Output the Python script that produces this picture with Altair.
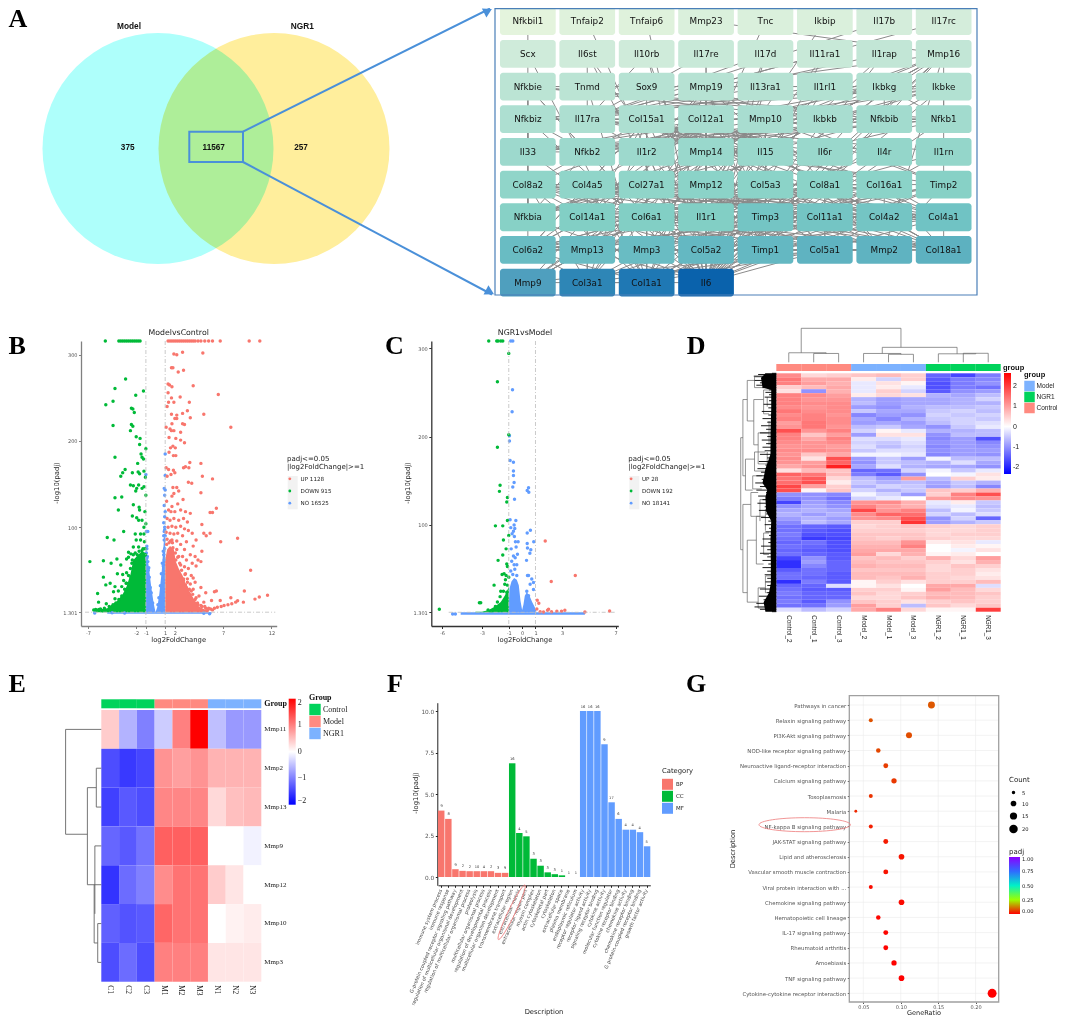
import itertools
import altair as alt
import pandas as pd

W, H = 1049, 1008
SANS = "DejaVu Sans"
SERIF = "Liberation Serif"
ARIAL = "Liberation Sans"
UP, DOWN, NO = "#F8766D", "#00BA38", "#619CFF"
ANN_G, ANN_R, ANN_B = "#00D35B", "#FF8A80", "#7CB2FF"

# ---------- A ----------
venn_sets = ["Model", "NGR1"]
venn_counts = ["375", "11567", "257"]
genes = ["Nfkbil1","Tnfaip2","Tnfaip6","Mmp23","Tnc","Ikbip","Il17b","Il17rc",
 "Scx","Il6st","Il10rb","Il17re","Il17d","Il11ra1","Il1rap","Mmp16",
 "Nfkbie","Tnmd","Sox9","Mmp19","Il13ra1","Il1rl1","Ikbkg","Ikbke",
 "Nfkbiz","Il17ra","Col15a1","Col12a1","Mmp10","Ikbkb","Nfkbib","Nfkb1",
 "Il33","Nfkb2","Il1r2","Mmp14","Il15","Il6r","Il4r","Il1rn",
 "Col8a2","Col4a5","Col27a1","Mmp12","Col5a3","Col8a1","Col16a1","Timp2",
 "Nfkbia","Col14a1","Col6a1","Il1r1","Timp3","Col11a1","Col4a2","Col4a1",
 "Col6a2","Mmp13","Mmp3","Col5a2","Timp1","Col5a1","Mmp2","Col18a1",
 "Mmp9","Col3a1","Col1a1","Il6"]
degree = [1,2,2,3,3,3,4,4, 5,5,5,6,6,6,7,7, 8,8,9,9,9,10,10,10, 11,11,11,12,12,12,13,13,
 14,14,14,15,15,15,16,16, 17,17,17,18,18,18,18,19, 19,20,20,20,24,24,24,25,
 28,28,28,30,30,32,32,33, 38,46,52,60]
collagens = ["Col15a1","Col12a1","Col8a2","Col4a5","Col27a1","Col5a3","Col8a1","Col16a1","Col14a1","Col6a1",
 "Col11a1","Col4a2","Col4a1","Col6a2","Col5a2","Col5a1","Col18a1","Col3a1","Col1a1"]
mmps = ["Mmp16","Mmp19","Mmp10","Mmp14","Mmp12","Timp2","Timp3","Mmp13","Mmp3","Timp1","Mmp2","Mmp9","Il6"]
nfkb = ["Nfkbie","Ikbkg","Ikbke","Nfkbiz","Ikbkb","Nfkbib","Nfkb1","Nfkb2","Nfkbia","Il6","Il33"]
il_hubs = ["Il6","Il1r1","Il17ra"]
il_leaves = ["Il6st","Il10rb","Il17re","Il17d","Il11ra1","Il1rap","Il13ra1","Il1rl1","Il1r2","Il15","Il6r","Il4r","Il1rn"]
extra_edges = [("Nfkbil1","Nfkbie"),("Tnfaip2","Il6"),("Tnfaip6","Il6"),("Mmp23","Mmp16"),("Tnc","Col1a1"),("Ikbip","Col1a1"),("Il17b","Il17ra"),("Il17rc","Il17ra"),
 ("Scx","Col1a1"),("Tnmd","Col1a1"),("Sox9","Col1a1"),("Col1a1","Mmp2"),("Col3a1","Mmp2")]
fan_edges = [("Col1a1","Col5a1"),("Col3a1","Col5a1"),("Mmp9","Col5a1"),("Il6","Col5a1"),("Il6","Col4a2")]

# ---------- B ----------
b_up_top = [1.3,1.5,1.7,1.9,2.1,2.3,2.5,2.7,2.9,3.1,3.3,3.5,3.7,3.9,4.1,4.4,4.7,5.1,5.5,5.9,6.7,9.7,10.8]
b_down_top = [-5.2,-3.8,-3.6,-3.4,-3.2,-3.0,-2.8,-2.6,-2.4,-2.2,-2.0,-1.8,-1.6]
b_up = [(1.9,301),(2.2,300),(2.8,303),(4.9,302),(1.65,285),(1.8,285),(2.35,280),(2.9,282),(3.9,264),(1.3,266),(1.45,265),(1.7,263),
 (1.3,256),(6.5,254),(1.65,250),(2.55,251),(3.5,245),(1.35,245),(1.9,245),(1.2,240),(3.3,235),(2.8,232),(1.65,231),(2.2,230),(5,231),
 (3.6,227),(2.2,226),(2,226),(1.7,220),(2.8,220),(3,219),(7.8,216),(1.1,216),(1.5,214),(1.65,212),(1.9,212),(2.6,210),(1.4,204),(2.1,203),
 (2.6,201),(1.8,194),(1.55,192),(2.05,192),(3,198),(1.4,187),(1.85,183),(2.1,183),(3.55,175),(4.7,174),(1.1,169),(2.9,169),(3.1,170),(3.45,169),
 (1.35,167),(1.85,166),(4.85,159),(5.9,156),(1.6,161),(1.2,159),(2.0,163),(3.4,152),(3.75,151),(2.2,146),(1.8,146),(2.4,142),(4.7,140),(1.7,136),
 (1.9,139),(2.85,132),(1.15,130),(1.7,124),(2.3,127),(6.3,122),(5.9,117),(5.65,117),(1.35,120),(1.6,118),(2.0,118),(2.6,120),(3.1,118),(3.6,116),
 (1.2,110),(1.5,108),(1.9,110),(2.4,108),(2.9,110),(3.3,106),(4.8,103),(1.3,100),(1.7,101),(2.1,100),(2.6,101),(3.0,98),(3.4,96),(1.1,94),(1.5,93),
 (1.9,92),(2.3,93),(2.8,90),(3.8,93),(5.65,93),(5.0,93),(5.25,90),(6.75,83),(8.5,87),(1.2,86),(1.7,85),(2.2,84),(3.2,83),(4.2,85),(2.6,80),(3.9,78),
 (1.8,76),(3.0,74),(4.8,72),(4.1,66),(3.6,68),(2.4,66),(2.8,66),(3.2,62),(4.4,62),(4.7,60),(2.1,62),(3.8,58),(4.2,55),(2.6,56),(3.0,54),(3.4,52),
 (9.85,50),(3.7,44),(3.1,46),(3.9,41),(2.6,42),(3.3,40),(2.9,38),(4.1,36),(3.6,34),(4.7,30),(3.2,30),(2.6,32),(3.9,28),(5.2,24),(6.1,25),(6.3,26),(9.2,26),
 (11.6,21),(10.75,19),(10.3,16.5),(7.8,18),(8.5,14.5),(9.1,13),(4.5,20),(3.5,22),(5.8,15),(6.7,15),(4.1,16),(5.0,13),(5.7,5),(6.1,6),(6.4,7),(6.8,8),
 (7.1,9),(7.5,10),(7.9,11),(8.3,13),(5.2,6),(4.8,8),(4.4,10),
 (2.05,70),(1.75,82),(1.4,82),(1.15,80),(2.3,65),(2.5,58),(2.7,50),(3.05,45),(3.3,36),(3.5,28),(3.85,22),(4.2,18),(4.35,12),(4.7,9),(5.1,8),(5.4,4),
 (2.2,74),(1.55,84),(2.9,40),(3.1,33),(3.7,26),(5.5,6),(5.9,4)]
b_down = [(-3.1,272),(-4.2,261),(-1.25,258),(-2.05,253),(-4.4,246),(-5.15,242),(-2.5,238),(-2.35,237),(-2.2,233),(-4.4,218),(-2.5,219),(-2.35,217),
 (-2.6,212),(-2.0,205),(-1.6,203),(-1.65,196),(-1.0,191),(-1.5,185),(-1.4,181),(-4.2,181),(-1.25,179),(-1.85,174),(-3.15,167),(-3.4,163),(-3.6,159),
 (-2.4,163),(-1.8,164),(-1.65,162),(-1.2,165),(-1.05,158),(-2.6,149),(-2.3,148),(-1.75,149),(-1.95,145),(-2.05,142),(-1.4,145),(-1.2,147),(-1.0,137),
 (-3.5,135),(-4.2,134),(-2.3,126),(-1.7,123),(-1.65,120),(-1.1,118),(-3.85,120),(-2.4,113),(-1.95,111),(-1.75,108),(-1.4,108),(-1.0,104),(-3.3,95),
 (-1.2,100),(-1.55,92),(-1.2,92),(-2.1,92),(-5,88),(-4.3,85),(-2.0,85),(-1.55,85),(-1.15,83),(-2.3,77),(-1.75,77),(-2.8,71),(-1.4,73),(-2.8,65),(-2.3,68),
 (-1.9,68),(-2.55,69),(-1.05,68),(-3,63),(-4,63),(-5.4,61),(-6.8,60),(-4.6,58),(-3.6,56),(-2.45,58),(-1.95,58),(-1.4,58),(-3.95,46),(-3.4,45),(-3,47),
 (-5.4,42),(-3.3,38),(-2.55,42),(-2.1,48),(-4.2,31),(-4.7,35),(-5.15,33),(-3.85,26),(-4.35,25),(-6,23),(-4.2,17),(-3.5,31),(-3.05,35),(-5.9,13),(-5.1,11),
 (-4.1,11),(-6.2,4.5),(-5.85,4.5),(-5.5,3),(-4.5,8),(-6.4,4),(-6.0,3.5),
 (-1.3,75),(-1.7,72),(-2.1,70),(-2.4,62),(-2.6,52),(-2.8,44),(-3,35),(-3.2,28),(-3.5,20),(-3.8,16),(-4.1,12),(-4.4,10),(-4.8,8),(-5.3,6),(-5.7,5),
 (-2.2,58),(-1.6,66),(-1.1,75),(-2.9,25),(-3.3,18)]
b_no = [(-1,161),(1,185),(1.0,160),(0.9,145),(1.0,143),(0.95,137),(0.9,125),(1,118),(0.95,112),(0.85,105),(0.95,97),(-0.95,95),(-0.8,95),(1,90),(0.9,85),
 (-0.9,78),(-0.95,70),(-0.9,64),(0.95,75),(0.85,68),(0.9,62),(-0.8,60),(-0.7,53),(0.8,55),(-6.3,0.3),(-4.5,0.6),(-3.2,0.4),(5.6,-0.6),(5.0,0.2),
 (-0.9,75),(-0.85,66),(-0.75,50),(-0.65,42),(-.55,30),(-.45,24),(-.3,12),(.25,10),(.35,18),(.5,32),(.6,46),(.7,58),(.8,72),(.9,95),(.95,100),(.85,90)]
b_up_area_x = [1,1.2,1.5,1.9,2.1,2.4,2.8,3.2,3.6,4,4.5,5,5.5]
b_up_area_y = [62,74,78,74,60,52,44,32,24,16,8,5,2.5]
b_down_area_x = [-6.4,-6,-5,-4,-3.4,-3,-2.6,-2.3,-1.8,-1.4,-1]
b_down_area_y = [3,4,6,14,22,31,45,62,68,72,70]
b_no_x = [-1,-0.7,-0.45,-0.2,0,0.2,0.4,0.65,0.9,1]
b_no_y = [78,54,31,12,1.3,8,23,50,90,95]

# ---------- C ----------
c_down_top = [-2.5,-1.9,-1.8,-1.6,-1.45]
c_no_top = [-0.85,-0.7]
c_up = [(1.73,82),(2.18,36),(3.98,43),(6.55,2.8),(1.13,15),(1.25,11.5),(1.1,5),(1.98,4.7),(1.9,3.5),(3.2,3.6),(2.6,2.6),(2.95,2.6),(4.7,1.7),(1.35,2),(1.6,1.6),(2.2,2)]
c_down = [(-1,294),(-1.85,262),(-1,202),(-1.85,188),(-1.65,145),(-1.7,138),(-1.1,131),(-1.15,126),(-1.1,105),(-2,99),(-1.45,99),(-1,88),(-1.4,83),(-1.2,73),
 (-1.45,66),(-1.8,60),(-1.15,56),(-1.1,53),(-1.5,44),(-1.35,45),(-1.2,43),(-1,41),(-2.1,32),(-1.6,25),(-1.4,25),(-1.15,24),(-1.65,19),(-1.85,13),(-2.0,8),
 (-3.2,12),(-3.1,12.2),(-6.2,4.7),(-2.55,4),(-2.3,3),(-1.3,33),(-1.1,32),(-1.25,38)]
c_no = [(-0.72,253),(-0.75,228),(-0.95,201),(-0.95,195),(-0.9,173),(-0.65,171),(-0.65,161),(-0.65,156),(-0.6,148),(-0.7,143),(-0.57,129),(0.48,142),(0.38,139),(0.5,137),
 (-0.9,106),(-0.47,105),(-0.6,100),(-0.85,97),(-0.55,96),(-0.65,93),(-0.75,90),(-0.58,87),(0.38,91),(0.62,94),(0.87,81),(0.38,79),(0.4,74),(0.65,72),(0.58,68),(0.33,60),
 (-0.5,81),(-0.3,81),(-0.45,75),(-0.82,73),(-0.65,65),(-0.35,67),(-0.78,59),(-0.52,63),(-0.85,48),(-0.55,50),(-0.7,44),(-0.4,43),(0.48,43),(0.4,43),(0.72,39),(0.85,35),(0.6,33),(0.85,27),
 (0.35,25),(0.48,20),(-5.2,-0.6),(-5.0,-0.6),(-0.6,55),(-0.4,55)]
c_no_lobe_x = [-1,-.95,-.8,-.6,-.4,-.25,-.12,0,.1,.2,.35,.55,.75,.95,1.05]
c_no_lobe_y = [8,28,36,40,38,32,14,4,10,20,24,20,13,7,3]
c_no_base_x = [-4.6,4.7]
c_down_area_x = [-3.5,-3,-2.5,-2,-1.6,-1.3,-1]
c_down_area_y = [1.8,2,4,8,13,20,30]

# ---------- D ----------
d_cols = ["Control_2","Control_1","Control_3","Model_2","Model_1","Model_3","NGR1_2","NGR1_1","NGR1_3"]
d_groups = ["Control"]*3 + ["Model"]*3 + ["NGR1"]*3
d_matrix = [
 [1.2,.4,.5,.6,.7,.5,-1.4,-1.7,-1.2],[1.4,.9,.9,.2,-.4,.5,-1.5,-1.2,-1.1],[1.3,1.0,.8,-.2,.3,.1,-1.6,-1.2,-1.0],[.5,.7,.9,-.2,.2,-.2,-1.6,-1.2,-1.3],
 [.3,-1.0,.8,-.2,.5,-.4,-1.5,-1.0,-.9],[1.3,1.2,1.0,.2,.4,.3,-.7,-.8,-.6],[1.3,1.1,1.1,-.7,-.9,-.8,-.8,-.7,-.4],[1.3,1.2,1.2,-.6,-.9,-.8,-.8,-.7,-.7],
 [1.2,1.1,1.2,-.9,-1.0,-.7,-.6,-.6,-.5],[1.4,1.2,1.2,-.5,-.8,-.8,-.5,-.4,-.6],[1.2,1.3,1.1,-1.1,-.9,-1.0,-.4,-.5,-.4],[1.3,1.3,1.2,-.8,-1.1,-.7,-.5,-.4,-.5],
 [1.0,1.4,1.2,-.9,-.8,-.9,-.6,-.4,-.3],[1.1,1.4,1.1,-.6,-.5,-.8,-1.0,-.5,-.2],[1.8,1.1,1.3,-.4,.1,-.2,-.7,-.7,-.6],[1.3,.6,1.0,-.9,.3,.3,-1.0,-.6,-.6],
 [1.3,.9,1.3,-.3,-.3,-.2,-1.1,-.9,-1.6],[1.2,1.1,1.2,-.4,-.5,-.3,-1.0,-.9,-1.1],[1.1,1.1,1.0,-.3,-.6,-.4,-1.1,-.9,-1.0],[1.2,1.2,1.1,-.5,-.3,-.3,-1.0,-.9,-.9],
 [1.1,.6,.9,-.1,-.1,-.2,-1.1,-.9,-1.0],[1.2,.3,1.8,-.9,-.5,-.9,-.1,-.6,-.6],[1.1,1.0,1.6,-1.0,-.5,-.6,-.7,-.3,-.8],[.9,1.1,2.3,-.8,-.3,-.7,-.8,-.8,-1.0],
 [.3,.7,.6,-1.4,-1.3,-.4,-.1,-.5,-.2],[1.6,1.4,.7,-1.2,-1.5,-1.0,0,-.1,.3],[1.4,1.7,.4,-.6,-.9,1.0,-.6,.5,.2],[1.5,1.8,.2,-.5,-.7,-.6,-.8,-.5,-.7],
 [1.9,1.0,.5,-.7,-.4,-.5,-.9,-.6,-1.1],[1.8,.1,.6,-.4,-.7,-.5,.6,.5,.8],
 [-1.0,-1.0,-1.1,-.1,-.4,-.9,.5,1.3,1.8],[-1.2,-1.0,-1.3,-.4,-.2,0,1.0,1.2,1.1],[-1.7,-.9,-1.1,1.1,1.2,.8,-.2,.2,-.5],[-1.0,-.8,-1.0,1.3,1.0,.8,-.3,-.2,-.6],
 [-.8,-.7,-.8,1.9,1.1,1.3,-.6,-.1,-.5],[-.7,-.9,-.7,1.2,1.6,1.5,-.4,-.6,-.3],[-.9,-.7,-.9,1.1,1.2,1.8,-1.0,-.4,-1.4],[-1.1,-.6,-.8,.5,.5,2.1,-.9,-.7,-.5],
 [-1.3,-1.4,-1.5,.4,.5,.6,.5,.4,.5],[-1.3,-1.5,-1.6,.5,.5,.5,.4,.4,.5],[-1.2,-1.6,-1.6,.6,.6,.6,.4,.5,.5],[-1.3,-1.8,-1.7,.6,.5,.6,.5,.4,.4],
 [-1.4,-1.3,-1.6,.7,.7,1.1,.2,.3,-.2],[-1.3,-1.4,-1.6,.8,.8,1.3,0,.2,.1],[-1.4,-1.5,-1.6,.9,.9,.9,0,-.1,.3],[-1.3,-1.4,-1.5,1.0,.4,.8,.1,.2,0],
 [-1.7,-1.0,-1.5,.6,.7,.5,.8,.4,1.0],[-1.9,-.9,-1.4,.7,.6,.6,.5,.3,.8],[-1.9,-1.1,-1.4,.8,.7,.7,.4,.6,.5],[-1.5,-1.3,-1.4,.6,.6,.6,.4,.5,.3],
 [-1.3,-1.3,-1.5,.7,.7,.7,.5,.5,.2],[-1.3,-1.4,-1.5,.7,.6,.8,.5,.4,.3],[-1.9,-1.2,-1.5,.1,.5,.3,.5,.5,.7],[-1.4,-1.4,-.3,.1,.3,0,.9,.9,-.3],
 [-1.3,-1.5,-1.5,.5,.5,.1,1.0,.7,.4],[-1.2,-1.4,-1.4,.6,.4,.5,.7,.7,.6],[-1.3,-1.4,-1.4,.4,.4,.6,.8,.7,.5],[-1.2,-1.5,-1.0,.6,.5,.3,.5,.6,.5],
 [-1.3,-1.3,-.9,1.0,.5,-.6,.6,.4,.6],[-.3,-.6,-.4,.9,1.3,.4,.1,.1,2.0]]
d_seg_top = [(0.5,4.5,1.0,1.0),(0.5,0.5,1.0,0.28),(4.5,4.5,1.0,0.44),(0,1.5,0.28,0.28),(1,2,0.26,0.26),(0,0,0.28,0),(1,1,0.26,0),(2,2,0.26,0),
 (3.75,6.75,0.44,0.44),(3.75,3.75,0.44,0.26),(6.75,6.75,0.44,0.25),(3,4.5,0.26,0.26),(3,3,0.26,0),(4,5,0.235,0.235),(4.5,4.5,0.26,0.235),(4,4,0.235,0),(5,5,0.235,0),
 (6,7.5,0.25,0.25),(6,6,0.25,0),(7,8,0.265,0.265),(7.5,7.5,0.265,0.25),(7,7,0.265,0),(8,8,0.265,0),(1.5,1.5,0.28,0.26)]
d_seg_left = [(0.98,0.98,.27,.74),(.98,.92,.27,.27),(.98,.92,.74,.74),(.92,.92,.11,.43),(.92,.8,.11,.11),(.92,.85,.43,.43),(.8,.8,.03,.2),(.8,.6,.03,.03),(.8,.62,.2,.2),
 (.6,.6,.015,.06),(.6,.3,.015,.015),(.6,.3,.06,.06),(.62,.62,.11,.3),(.62,.35,.11,.11),(.62,.5,.3,.3),(.5,.5,.25,.38),(.5,.2,.25,.25),(.5,.25,.38,.38),(.35,.35,.07,.17),
 (.35,.2,.07,.07),(.35,.2,.17,.17),(.85,.85,.36,.49),(.85,.6,.36,.36),(.85,.65,.49,.49),(.6,.6,.33,.41),(.6,.3,.33,.33),(.6,.3,.41,.41),(.65,.65,.43,.485),(.65,.4,.43,.43),(.65,.4,.485,.485),
 (.92,.92,.55,.92),(.92,.7,.55,.55),(.92,.8,.92,.92),(.7,.7,.5,.6),(.7,.5,.5,.5),(.7,.45,.6,.6),(.8,.8,.7,.96),(.8,.55,.7,.7),(.8,.5,.96,.96),(.55,.55,.6,.8),(.55,.3,.6,.6),(.55,.35,.8,.8),
 (.35,.35,.67,.76),(.35,.2,.67,.67),(.35,.2,.76,.76),(.3,.3,.57,.66),(.3,.18,.57,.57),(.5,.5,.9,.985),(.5,.3,.9,.9),(.5,.3,.985,.985),(.3,.3,.85,.92),(.3,.15,.85,.85),(.3,.15,.92,.92),
 (.45,.45,.53,.62),(.45,.2,.53,.53),(.2,.2,.2,.3),(.2,.2,.42,.48),(.25,.25,.1,.14),(.25,.25,.33,.38)]
d_hair_pos = [0,.005,.012,.02,.03,.04,.05,.06,.07,.08,.09,.1,.115,.13,.145,.16,.175,.19,.205,.22,.235,.25,.265,.28,.295,.31,.325,.34,.355,.37,.385,.4,.415,.43,.445,.46,.475,.49,.5,.515,.53,.545,.56,.575,.59,.605,.62,.635,.65,.665,.68,.695,.71,.725,.74,.755,.77,.785,.8,.815,.83,.845,.86,.875,.89,.905,.92,.935,.95,.965,.98,.99,1]
d_hair_h = [.12,.5,.62,.42,.6,.45,.55,.38,.2,.3,.2,.32,.2,.35,.22,.4,.22,.38,.25,.42,.28,.45,.25,.4,.28,.38,.32,.45,.25,.48,.3,.52,.42,.55,.4,.58,.45,.55,.28,.5,.38,.52,.32,.48,.28,.42,.22,.32,.2,.3,.2,.38,.22,.42,.25,.45,.25,.38,.22,.38,.25,.32,.25,.3,.25,.45,.25,.48,.35,.55,.6,.45,.12]
d_core_pos = [0,.02,.06,.07,.15,.25,.34,.4,.46,.49,.52,.58,.62,.7,.8,.88,.92,.96,1]
d_core_h = [.3,.42,.38,.14,.14,.16,.16,.3,.38,.25,.3,.28,.14,.16,.15,.15,.2,.35,.3]
d_ticks = [-2,-1,0,1,2]

# ---------- E ----------
e_cols = ["C1","C2","C3","M1","M2","M3","N1","N2","N3"]
e_groups = ["Control"]*3 + ["Model"]*3 + ["NGR1"]*3
e_rows = ["Mmp11","Mmp2","Mmp13","Mmp9","Mmp12","Mmp10","Mmp3"]
e_matrix = [[.4,-.6,-1.0,-.4,1.0,2.0,-.5,-.8,-.8],[-1.4,-1.55,-1.45,.85,.75,.85,.6,.6,.6],[-1.5,-1.3,-1.4,.95,.95,.95,.3,.5,.55],
 [-1.2,-1.3,-1.1,1.25,1.25,1.25,0,0,-.1],[-1.6,-1.15,-1.0,.9,1.1,1.1,.4,.2,0],[-1.25,-1.35,-1.3,1.2,1.1,1.1,0,.1,.15],[-1.4,-1.15,-1.4,1.0,1.0,1.0,.2,.2,.2]]
e_seg = [(1,1,0,2.7),(1,0,0,0),(1,.39,2.7,2.7),(.39,.39,1.5,4.0),(.39,.14,1.5,1.5),(.14,.14,1,2),(.14,0,1,1),(.14,0,2,2),(.39,.18,4.0,4.0),(.18,.18,3,4.75),(.18,0,3,3),
 (.2,.2,4,5.5),(.2,0,4,4),(.2,.1,5.5,5.5),(.1,.1,5,6),(.1,0,5,5),(.1,0,6,6)]

# ---------- F ----------
f_terms = ["immune system process","immune response","G-protein coupled receptor signaling pathway","regulation of multicellular organismal development",
 "regulation of multicellular organismal process","proteolysis","multicellular organismal process","regulation of developmental process",
 "multicellular organism development","transmembrane transport","extracellular region","extracellular matrix","extracellular region part","myosin complex",
 "actin cytoskeleton","cytoskeletal part","cytoskeleton","extracellular space","plasma membrane","endoplasmic reticulum","receptor regulator activity",
 "receptor ligand activity","signaling receptor binding","cytokine activity","molecular function regulator","cytokine receptor binding","chemokine activity",
 "chemokine receptor binding","G protein-coupled receptor binding","growth factor activity"]
f_cat = ["BP"]*10 + ["CC"]*10 + ["MF"]*10
f_val = [4.0,3.5,.47,.37,.35,.35,.35,.35,.25,.25,6.85,2.65,2.45,1.1,.68,.28,.17,.1,0,0,10,10,10,8,4.5,3.5,2.85,2.85,2.7,1.85]
f_count = [9,8,9,2,2,10,4,2,3,9,16,4,5,3,3,3,3,1,1,1,16,16,16,9,17,6,4,4,4,5]

# ---------- G ----------
g_terms = ["Pathways in cancer","Relaxin signaling pathway","PI3K-Akt signaling pathway","NOD-like receptor signaling pathway","Neuroactive ligand-receptor interaction",
 "Calcium signaling pathway","Toxoplasmosis","Malaria","NF-kappa B signaling pathway","JAK-STAT signaling pathway","Lipid and atherosclerosis",
 "Vascular smooth muscle contraction","Viral protein interaction with ...","Chemokine signaling pathway","Hematopoietic cell lineage","IL-17 signaling pathway",
 "Rheumatoid arthritis","Amoebiasis","TNF signaling pathway","Cytokine-cytokine receptor interaction"]
g_ratio = [.141,.06,.111,.07,.08,.091,.06,.04,.06,.08,.101,.08,.06,.101,.07,.08,.08,.091,.101,.222]
g_count = [14,6,11,7,8,9,6,4,6,8,10,8,6,10,7,8,8,9,10,22]
g_padj = [.085,.08,.075,.07,.06,.055,.05,.04,.03,.025,.02,.018,.012,.01,.006,.004,.003,.002,.001,0]
g_ticks = [.05,.10,.15,.20]


def S(domain, a, b, **kw):
    return alt.Scale(domain=domain, range=[a - 8, b - 8], nice=False, zero=False, **kw)

def BAND(domain, a, b, inner=0):
    return alt.Scale(domain=domain, range=[a - 8, b - 8], paddingInner=inner, paddingOuter=0)

PX = alt.X("x:Q", scale=S([0, 1065], 0, 1065), axis=None)
PY = alt.Y("y:Q", scale=S([0, 1024], 0, 1024), axis=None)

def bottom_off(y): return y - 8 - H
def left_off(x): return -(x - 8)
def right_off(x): return x - 8 - W

layers = []

def page_text(rows, **kw):
    df = pd.DataFrame(rows, columns=["x", "y", "t"])
    layers.append(alt.Chart(df).mark_text(**kw).encode(x=PX, y=PY, text="t:N"))

def page_rect(rows, **kw):
    df = pd.DataFrame(rows, columns=["x", "x2", "y", "y2"])
    layers.append(alt.Chart(df).mark_rect(**kw).encode(x=PX, x2=alt.X2("x2"), y=PY, y2=alt.Y2("y2")))

def page_rule(rows, **kw):
    df = pd.DataFrame(rows, columns=["x", "x2", "y", "y2"])
    layers.append(alt.Chart(df).mark_rule(**kw).encode(x=PX, x2=alt.X2("x2"), y=PY, y2=alt.Y2("y2")))

def page_point(x, y, **kw):
    df = pd.DataFrame({"x": [x], "y": [y]})
    layers.append(alt.Chart(df).mark_point(**kw).encode(x=PX, y=PY))

def segs(rows, xscale, yscale, **kw):
    df = pd.DataFrame(rows, columns=["a", "a2", "b", "b2"])
    layers.append(alt.Chart(df).mark_rule(**kw).encode(
        x=alt.X("a:Q", scale=xscale, axis=None), x2=alt.X2("a2"),
        y=alt.Y("b:Q", scale=yscale, axis=None), y2=alt.Y2("b2")))

# ===== A =====
vdf = pd.DataFrame({"x": [158, 274], "y": [148.5, 148.5], "s": venn_sets})
layers.append(alt.Chart(vdf).mark_point(filled=True, size=231 ** 2, opacity=1, blend="multiply").encode(
    x=PX, y=PY, color=alt.Color("s:N", scale=alt.Scale(domain=venn_sets, range=["#AEFFFB", "#FFEE9C"]), legend=None)))
page_text([(129, 26.5, venn_sets[0]), (302.3, 26.5, venn_sets[1])], font=ARIAL, fontSize=8.3, fontWeight="bold", color="#111")
page_text([(127.7, 148, venn_counts[0]), (213.7, 148, venn_counts[1]), (301, 148, venn_counts[2])], font=ARIAL, fontSize=8.2, fontWeight="bold", color="#111")
page_rule([(243, 490, 131.7, 8.5), (243, 492, 162, 294.5)], color="#4A90D9", strokeWidth=2)
page_rect([(189.3, 243, 131.7, 162)], fill=None, stroke="#4A90D9", strokeWidth=2)
page_point(488, 11, shape="triangle-up", filled=True, angle=63, size=100, color="#4A90D9", opacity=1)
page_point(490, 292, shape="triangle-up", filled=True, angle=118, size=110, color="#4A90D9", opacity=1)

# network
NX = S([0, 7], 527.85, 943.65)
NY = S([0, 8], 21.2, 282.6)
pos = {g: (i % 8, i // 8) for i, g in enumerate(genes)}
pairs = []
for grp in (collagens, mmps, nfkb):
    pairs += list(itertools.combinations(grp, 2))
pairs += [(h, l) for h in il_hubs for l in il_leaves] + extra_edges
kept = []
for a, b in pairs:
    (ca, ra), (cb, rb) = pos[a], pos[b]
    if ra == 8 or rb == 8:
        (c8, r8), (co, ro) = ((ca, ra), (cb, rb)) if ra == 8 else ((cb, rb), (ca, ra))
        if ro != 8 and co > c8 and (co - c8) > 2 * (8 - ro) - 1:
            continue
    kept.append((ca, cb, ra, rb))
for a, b in fan_edges:
    kept.append((pos[a][0], pos[b][0], pos[a][1], pos[b][1]))
segs(kept, NX, NY, color="#8A8A8A", strokeWidth=1)
ndf = pd.DataFrame({"g": genes, "deg": degree})
ndf["c"] = [pos[g][0] for g in genes]
ndf["r"] = [pos[g][1] for g in genes]
nbase = alt.Chart(ndf).transform_calculate(c0="datum.c-0.469", c1="datum.c+0.469", r0="datum.r-0.425", r1="datum.r+0.425")
layers.append(nbase.mark_rect(cornerRadius=3).encode(
    x=alt.X("c0:Q", scale=NX, axis=None), x2=alt.X2("c1"),
    y=alt.Y("r0:Q", scale=NY, axis=None), y2=alt.Y2("r1"),
    color=alt.Color("deg:Q", legend=None, scale=alt.Scale(interpolate="rgb",
        domain=[1, 5, 8, 11, 14, 17, 20, 25, 33, 38, 46, 52, 60],
        range=["#E4F4DD", "#CFEBDA", "#BBE4D4", "#ADDFD1", "#9DD9CD", "#90D5C9", "#82CFC5", "#70C3C4", "#5DB1C0", "#4F9FBE", "#2E86B6", "#1F78B4", "#0A62AC"]))))
layers.append(alt.Chart(ndf).mark_text(font=SANS, fontSize=8.8, color="#111").encode(
    x=alt.X("c:Q", scale=NX, axis=None), y=alt.Y("r:Q", scale=NY, axis=None), text="g:N"))
page_rect([(495, 977, 8.6, 295)], fill=None, stroke="#4A7FB8", strokeWidth=1.2)

# ===== volcanoes =====
def volcano(xdom, xa, xb, ydom, ya, yb, xticks, yticks, domain_color, leg_labels, leg_x, leg_y,
            areas, up, down, no, vx, hx):
    XS = S(xdom, xa, xb)
    YS = S(ydom, ya, yb)
    for ax, ay, ay2, col in areas:
        adf = pd.DataFrame({"a": ax, "b": ay, "b2": ay2})
        layers.append(alt.Chart(adf).mark_area(color=col, orient="vertical", opacity=1).encode(
            x=alt.X("a:Q", scale=XS, axis=None), y=alt.Y("b:Q", scale=YS, axis=None, stack=None), y2=alt.Y2("b2")))
    rows = [(x, y, leg_labels[2]) for x, y in no] + [(x, y, leg_labels[1]) for x, y in down] + [(x, y, leg_labels[0]) for x, y in up]
    pdf = pd.DataFrame(rows, columns=["lfc", "val", "group"])
    layers.append(alt.Chart(pdf).mark_circle(size=12, opacity=1).encode(
        x=alt.X("lfc:Q", scale=XS, axis=alt.Axis(orient="bottom", offset=bottom_off(ya), values=xticks, title=None, grid=False,
            domainColor=domain_color, domainWidth=1.3, tickColor=domain_color, tickSize=2.5, labelFontSize=5, labelColor="#555", labelFont=SANS,
            labelPadding=1.5, labelExpr="''+datum.value", labelOverlap=False)),
        y=alt.Y("val:Q", scale=YS, axis=alt.Axis(orient="left", offset=left_off(xa), values=yticks, title=None, grid=False,
            domainColor=domain_color, domainWidth=1.3, tickColor=domain_color, tickSize=2.5, labelFontSize=5, labelColor="#555", labelFont=SANS,
            labelPadding=1.5, labelExpr="''+datum.value", labelOverlap=False)),
        color=alt.Color("group:N", scale=alt.Scale(domain=leg_labels, range=[UP, DOWN, NO]), legend=alt.Legend(
            orient="none", legendX=leg_x - 8, legendY=leg_y - 8, title=["padj<=0.05", "|log2FoldChange|>=1"], titleFont=SANS, titleFontSize=7,
            titleFontWeight="normal", titleColor="#222", titleLineHeight=8, labelFont=SANS, labelFontSize=5.6, labelColor="#222", symbolSize=8, symbolType="circle",
            rowPadding=5.2, titlePadding=6, padding=0, labelOffset=8))))
    seg_rows = [(v, v, ydom[1], ydom[0]) for v in vx] + [(hx[0], hx[1], 1.301, 1.301)]
    segs(seg_rows, XS, YS, color="#BDBDBD", strokeWidth=0.8, strokeDash=[4, 2, 1, 2])

page_rect([(287.7, 297.7, 476, 509.3), (629.3, 639.3, 476, 509.3)], fill="#F2F2F2")

volcano([-7.72, 12.55], 81, 276.7, [-14.7, 316], 626, 341, [-7, -2, -1, 1, 2, 7, 12], [1.301, 100, 200, 300], "#808080",
        ["UP 1128", "DOWN 915", "NO 16525"], 287, 455,
        [([-5, 5.8], [1.3, 1.3], [-0.6, -0.6], NO),
         (b_no_x, b_no_y, [1.3] * len(b_no_x), NO),
         (b_up_area_x, b_up_area_y, [1.3] * len(b_up_area_x), UP),
         (b_down_area_x, b_down_area_y, [1.3] * len(b_down_area_x), DOWN)],
        b_up + [(v, 316) for v in b_up_top], b_down + [(v, 316) for v in b_down_top], b_no, [-1, 1], [-7.3, 12.4])

volcano([-6.8, 7.2], 431.3, 618.3, [-14.2, 308], 626, 341, [-6, -3, -1, 0, 1, 3, 7], [1.301, 100, 200, 300], "#333333",
        ["UP 28", "DOWN 192", "NO 18141"], 628.3, 455,
        [(c_no_base_x, [1.3, 1.3], [-1.5, -1.5], NO),
         (c_no_lobe_x, c_no_lobe_y, [1.3] * len(c_no_lobe_x), NO),
         (c_down_area_x, c_down_area_y, [1.3] * len(c_down_area_x), DOWN)],
        c_up, c_down + [(v, 308) for v in c_down_top], c_no + [(v, 308) for v in c_no_top], [-1, 1], [-5.5, 7])

page_text([(178.7, 332.7, "ModelvsControl"), (525, 332.7, "NGR1vsModel")], font=SANS, fontSize=7.8, color="#222")
page_text([(178.7, 639.5, "log2FoldChange"), (525, 639.5, "log2FoldChange")], font=SANS, fontSize=6.8, color="#222")
page_text([(57, 483, "-log10(padj)"), (408, 483, "-log10(padj)")], font=SANS, fontSize=6.8, color="#222", angle=270)

# ===== heatmaps =====
def heat_rows(cols, rows, matrix):
    return pd.DataFrame([{"col": c, "row": r, "v": matrix[i][j]} for i, r in enumerate(rows) for j, c in enumerate(cols)])

# D
d_rows = list(range(len(d_matrix)))
D_X = BAND(d_cols, 776.3, 1000.7)
d_ann = pd.DataFrame({"col": d_cols, "group": d_groups, "lab": ["group"] * 9})
layers.append(alt.Chart(heat_rows(d_cols, d_rows, d_matrix)).mark_rect().encode(
    x=alt.X("col:N", scale=D_X, sort=d_cols, axis=alt.Axis(orient="bottom", offset=bottom_off(611.7), title=None, labelAngle=90, labelAlign="left", labelBaseline="middle",
        labelFont=ARIAL, labelFontSize=6.3, labelColor="#222", tickSize=0, domain=False, labelPadding=3, labelOverlap=False)),
    y=alt.Y("row:O", scale=BAND(d_rows, 373.3, 611.7), sort=d_rows, axis=None),
    color=alt.Color("v:Q", scale=alt.Scale(domain=[-2.33, 0, 2.63], range=["#0000FF", "#FFFFFF", "#FF0000"], interpolate="rgb"), legend=alt.Legend(
        orient="none", legendX=1004 - 8, legendY=373 - 8, title=None, gradientLength=101, gradientThickness=7, values=d_ticks, labelExpr="''+datum.value",
        labelFont=ARIAL, labelFontSize=7, labelColor="#222", padding=0, labelOffset=2, gradientStrokeWidth=0))))
layers.append(alt.Chart(d_ann).mark_rect().encode(
    x=alt.X("col:N", scale=D_X, sort=d_cols, axis=None),
    y=alt.Y("lab:N", scale=alt.Scale(domain=["group"], range=[364 - 8, 371 - 8], paddingInner=0, paddingOuter=0), axis=None),
    color=alt.Color("group:N", scale=alt.Scale(domain=["Model", "NGR1", "Control"], range=[ANN_B, ANN_G, ANN_R]), legend=alt.Legend(
        orient="none", legendX=1024 - 8, legendY=371 - 8, title="group", titleFont=ARIAL, titleFontSize=7.5, titleFontWeight="bold", titleColor="#111", titlePadding=2,
        labelFont=ARIAL, labelFontSize=6.5, labelColor="#222", symbolType="square", symbolSize=110, symbolStrokeWidth=0, rowPadding=0, padding=0, labelOffset=1.5, columnPadding=0))))
page_text([(1003, 368, "group")], font=ARIAL, fontSize=7.5, fontWeight="bold", color="#111", align="left")
segs(d_seg_top, S([-0.5, 8.5], 776.3, 1000.7), S([0, 1], 362.3, 328.3), color="#666", strokeWidth=0.7)
DH_X = S([0, 1], 776.3, 740)
DH_Y = S([0, 1], 373.3, 611.7)
segs(d_seg_left, DH_X, DH_Y, color="#666", strokeWidth=0.7)
hair_rows = [(0, h, p, p) for p, h in zip(d_hair_pos, d_hair_h)]
segs(hair_rows, DH_X, DH_Y, color="#000", strokeWidth=0.9)
hdf = pd.DataFrame({"p": d_core_pos, "h": d_core_h, "z": [0] * len(d_core_pos)})
layers.append(alt.Chart(hdf).mark_area(color="#000", orient="horizontal", opacity=1).encode(
    x=alt.X("h:Q", scale=DH_X, axis=None, stack=None), x2=alt.X2("z"), y=alt.Y("p:Q", scale=DH_Y, axis=None)))

# E
E_X = BAND(e_cols, 101.3, 261.3)
e_ann = pd.DataFrame({"col": e_cols, "group": e_groups, "lab": ["Group"] * 9})
layers.append(alt.Chart(heat_rows(e_cols, e_rows, e_matrix)).mark_rect().encode(
    x=alt.X("col:N", scale=E_X, sort=e_cols, axis=alt.Axis(orient="bottom", offset=bottom_off(981.7), title=None, labelAngle=90, labelAlign="left", labelBaseline="middle",
        labelFont=SERIF, labelFontSize=7.5, labelColor="#222", tickSize=0, domain=False, labelPadding=3, labelOverlap=False)),
    y=alt.Y("row:N", scale=BAND(e_rows, 710, 981.7), sort=e_rows, axis=alt.Axis(orient="right", offset=right_off(261.3), title=None,
        labelFont=SERIF, labelFontSize=7, labelColor="#222", tickSize=0, domain=False, labelPadding=2.5, labelOverlap=False)),
    color=alt.Color("v:Q", scale=alt.Scale(domain=[-2, 0, 2], range=["#0000FF", "#FFFFFF", "#FF0000"], interpolate="rgb"), legend=alt.Legend(
        orient="none", legendX=288.7 - 8, legendY=698.7 - 8, title=None, gradientLength=106, gradientThickness=7, values=[-2, -1, 0, 1, 2],
        labelFont=SERIF, labelFontSize=8, labelColor="#222", padding=0, labelOffset=2, gradientStrokeWidth=0))))
layers.append(alt.Chart(e_ann).mark_rect().encode(
    x=alt.X("col:N", scale=E_X, sort=e_cols, axis=None),
    y=alt.Y("lab:N", scale=alt.Scale(domain=["Group"], range=[699.3 - 8, 708.3 - 8], paddingInner=0, paddingOuter=0),
        axis=alt.Axis(orient="right", offset=right_off(261.3), title=None, labelFont=SERIF, labelFontSize=8, labelFontWeight="bold", labelColor="#111",
                      tickSize=0, domain=False, labelPadding=2.5)),
    color=alt.Color("group:N", scale=alt.Scale(domain=["Control", "Model", "NGR1"], range=[ANN_G, ANN_R, ANN_B]), legend=alt.Legend(
        orient="none", legendX=309 - 8, legendY=694 - 8, title="Group", titleFont=SERIF, titleFontSize=8, titleFontWeight="bold", titleColor="#111", titlePadding=1.5,
        labelFont=SERIF, labelFontSize=8, labelColor="#222", symbolType="square", symbolSize=130, symbolStrokeWidth=0, rowPadding=0, padding=0, labelOffset=2))))
segs(e_seg, S([0, 1], 101.3, 65.6), S([0, 6], 729.4, 962.4), color="#666", strokeWidth=0.9)

# ===== F =====
fdf = pd.DataFrame({"term": f_terms, "cat": f_cat, "val": f_val, "n": f_count})
F_X = BAND(f_terms, 438, 650.3, inner=0.09)
F_Y = S([-0.5, 10.5], 885.3, 702.7)
layers.append(alt.Chart(fdf).mark_bar().encode(
    x=alt.X("term:N", scale=F_X, sort=f_terms, axis=alt.Axis(orient="bottom", offset=bottom_off(885.3), title=None, labelAngle=293, labelAlign="right", labelBaseline="middle",
        labelFont=SANS, labelFontSize=4.9, labelColor="#444", labelLimit=300, labelOverlap=False, tickSize=2, tickColor="#222", domainColor="#222", domainWidth=1, labelPadding=2)),
    y=alt.Y("val:Q", scale=F_Y, stack=None, axis=alt.Axis(orient="left", offset=left_off(437.3), title=None, values=[0, 2.5, 5, 7.5, 10], format=".1f", grid=False,
        labelFont=SANS, labelFontSize=5.8, labelColor="#555", tickSize=2, tickColor="#222", domainColor="#222", domainWidth=1, labelPadding=1.5)),
    y2=alt.Y2(datum=0),
    color=alt.Color("cat:N", scale=alt.Scale(domain=["BP", "CC", "MF"], range=[UP, DOWN, NO]), legend=alt.Legend(
        orient="none", legendX=662 - 8, legendY=768 - 8, title="Category", titleFont=SANS, titleFontSize=6.8, titleFontWeight="normal", titleColor="#222", titlePadding=4,
        labelFont=SANS, labelFontSize=5.5, labelColor="#222", symbolType="square", symbolSize=121, symbolStrokeWidth=0, rowPadding=1, padding=0, labelOffset=3))))
layers.append(alt.Chart(fdf).mark_text(font=SANS, fontSize=3.6, color="#333", dy=-2.5, baseline="bottom").encode(
    x=alt.X("term:N", scale=F_X, sort=f_terms, axis=None), y=alt.Y("val:Q", scale=F_Y, axis=None, stack=None), text="n:Q"))
page_text([(544, 1012, "Description")], font=SANS, fontSize=6.8, color="#222")
page_text([(416, 793, "-log10(padj)")], font=SANS, fontSize=6.8, color="#222", angle=270)
ELL_F = "M -1 0 A 1 0.115 0 1 0 1 0 A 1 0.115 0 1 0 -1 0 Z"
ELL_G = "M -1 0 A 1 0.153 0 1 0 1 0 A 1 0.153 0 1 0 -1 0 Z"
page_point(511.7, 912.3, shape=ELL_F, size=3672, angle=296, filled=False, color="#EE7B7B", strokeWidth=0.8, opacity=1)

# ===== G =====
G_X = S([.0313, .2308], 849.3, 998.7)
G_Y = alt.Scale(type="point", domain=g_terms, range=[705 - 8, 993.3 - 8], padding=0)
gdf = pd.DataFrame({"term": g_terms, "ratio": g_ratio, "n": g_count, "padj": g_padj})
ggx = pd.DataFrame({"a": g_ticks, "b": [0] * 4, "b2": [1] * 4})
layers.append(alt.Chart(ggx).mark_rule(color="#EBEBEB", strokeWidth=0.6).encode(
    x=alt.X("a:Q", scale=G_X, axis=None), y=alt.Y("b:Q", scale=S([0, 1], 1002, 695.7), axis=None), y2=alt.Y2("b2")))
ggy = gdf.assign(a=.0313, a2=.2308)
layers.append(alt.Chart(ggy).mark_rule(color="#EBEBEB", strokeWidth=0.6).encode(
    x=alt.X("a:Q", scale=G_X, axis=None), x2=alt.X2("a2"), y=alt.Y("term:N", scale=G_Y, sort=g_terms, axis=None)))
page_rect([(849.3, 998.7, 695.7, 1002)], fill=None, stroke="#A0A0A0", strokeWidth=1.3)
layers.append(alt.Chart(gdf).mark_circle(opacity=1).encode(
    x=alt.X("ratio:Q", scale=G_X, axis=alt.Axis(orient="bottom", offset=bottom_off(1002), title=None, values=g_ticks, format=".2f", grid=False, domain=False,
        labelFont=SANS, labelFontSize=5, labelColor="#555", tickSize=1.5, tickColor="#555", labelPadding=0.5)),
    y=alt.Y("term:N", scale=G_Y, sort=g_terms, axis=alt.Axis(orient="left", offset=left_off(849.3), title=None, grid=False, domain=False,
        labelFont=SANS, labelFontSize=5.4, labelColor="#555", tickSize=2, tickColor="#555", labelPadding=1.5, labelLimit=300, labelOverlap=False)),
    size=alt.Size("n:Q", scale=alt.Scale(domain=[4, 22], range=[8, 80], zero=False), legend=alt.Legend(
        orient="none", legendX=1009 - 8, legendY=776 - 8, title="Count", titleFont=SANS, titleFontSize=7, titleFontWeight="normal", titleColor="#222", titlePadding=7,
        values=[5, 10, 15, 20], symbolFillColor="#000", symbolStrokeWidth=0, symbolType="circle", labelFont=SANS, labelFontSize=5.2, labelColor="#222", rowPadding=4.5, padding=0, labelOffset=4)),
    color=alt.Color("padj:Q", scale=alt.Scale(domain=[0, .25, .5, .75, 1], range=["#FF0000", "#9CFF00", "#00F0C8", "#2F6BFF", "#8A00FF"], interpolate="rgb"), legend=alt.Legend(
        orient="none", legendX=1009 - 8, legendY=848 - 8, title="padj", titleFont=SANS, titleFontSize=7, titleFontWeight="normal", titleColor="#222", titlePadding=2,
        gradientLength=57, gradientThickness=11, values=[0, .25, .5, .75, 1], format=".2f", labelFont=SANS, labelFontSize=5.2, labelColor="#222", padding=0, labelOffset=2, gradientStrokeWidth=0))))
page_text([(924, 1013.2, "GeneRatio")], font=SANS, fontSize=6.5, color="#222")
page_text([(733, 849, "Description")], font=SANS, fontSize=6.8, color="#222", angle=270)
page_point(804.7, 824.7, shape=ELL_G, size=8354, filled=False, color="#EE7B7B", strokeWidth=0.8, opacity=1)

# panel letters
page_text([(8.5, 27, "A"), (8.5, 353.7, "B"), (385, 354.3, "C"), (686.7, 354, "D"), (8.5, 691.7, "E"), (387, 691.7, "F"), (686, 691.7, "G")],
          font=SERIF, fontSize=26, fontWeight="bold", color="#000", align="left", baseline="alphabetic")

chart = alt.layer(*layers).resolve_scale(x="independent", y="independent", color="independent", size="independent").properties(
    width=W, height=H, padding=0, autosize=alt.AutoSizeParams(type="none"), background="#FFFFFF"
).configure_view(stroke=None)

chart.save("out.html", embed_options={"renderer": "svg", "actions": False})
